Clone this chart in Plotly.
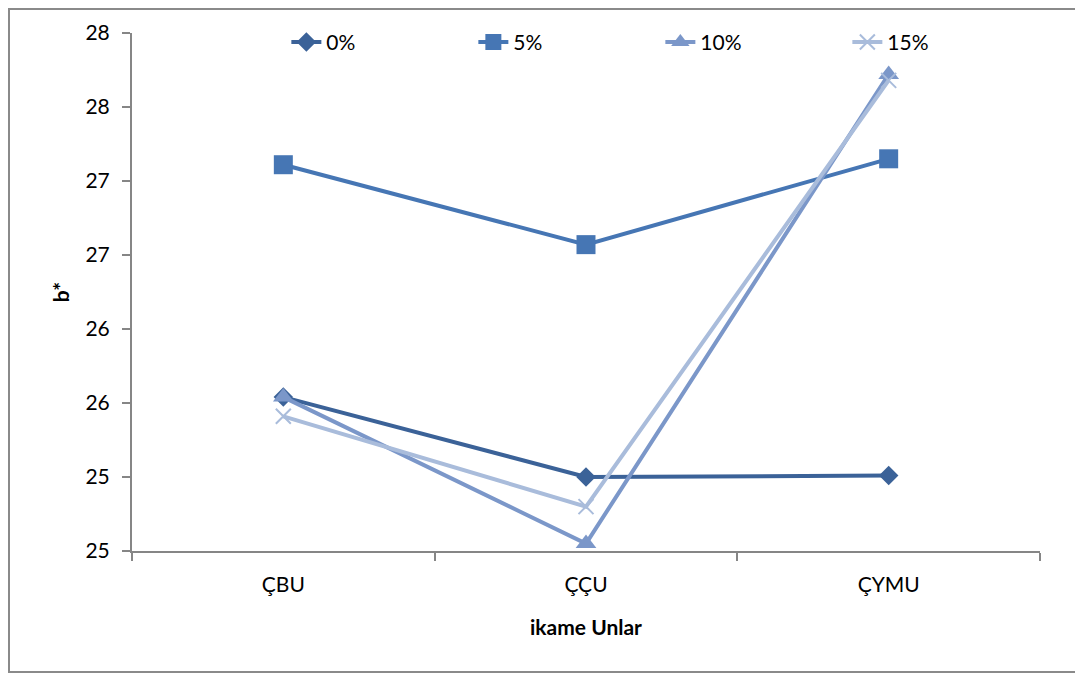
import plotly.graph_objects as go

categories = ["ÇBU", "ÇÇU", "ÇYMU"]
series_names = ["0%", "5%", "10%", "15%"]
v0 = [25.54, 25.00, 25.01]
v5 = [27.11, 26.57, 27.15]
v10 = [25.54, 24.55, 27.72]
v15 = [25.41, 24.80, 27.68]
tick_vals = [24.5, 25.0, 25.5, 26.0, 26.5, 27.0, 27.5, 28.0]
tick_text = ["25", "25", "26", "26", "27", "27", "28", "28"]

colors = ["#3B6298", "#4676B4", "#7B97C9", "#A9BCDB"]
symbols = ["diamond", "square", "triangle-up", "x-thin"]
sizes = [15, 19, 18, 15]
values = [v0, v5, v10, v15]

FONT = "Lato, 'Open Sans', sans-serif"
FS = 21

fig = go.Figure()
for name, vals, c, s, sz in zip(series_names, values, colors, symbols, sizes):
    marker = dict(symbol=s, size=sz, color=c)
    if s == "x-thin":
        marker["line"] = dict(color=c, width=2)
    fig.add_trace(go.Scatter(
        x=categories, y=vals, name=name, mode="lines+markers",
        line=dict(color=c, width=4), marker=marker,
    ))

x0b, x1b = -123 / 908, 1.1
y0b, y1b = -121 / 518, 1 + 24 / 518
border_path = f"M {x1b},{y1b} L {x0b},{y1b} L {x0b},{y0b} L {x1b},{y0b}"

fig.update_layout(
    width=1075, height=667,
    margin=dict(l=124, r=43, t=25, b=124, autoexpand=False),
    paper_bgcolor="white", plot_bgcolor="white",
    font=dict(family=FONT, size=FS, color="black"),
    showlegend=True,
    legend=dict(orientation="h", x=0.17, y=0.982, xanchor="left", yanchor="middle",
                entrywidth=142, entrywidthmode="pixels",
                font=dict(size=FS), bgcolor="rgba(0,0,0,0)"),
    xaxis=dict(type="category", range=[-0.5, 2.5], showgrid=False,
               showline=True, linecolor="#868686", linewidth=2,
               ticks="outside", tickson="boundaries", ticklen=8, tickcolor="#868686",
               tickwidth=2, ticklabelstandoff=14,
               title=dict(text="<b>ikame Unlar</b>", font=dict(size=FS), standoff=25),
               tickfont=dict(size=FS)),
    yaxis=dict(range=[24.5, 28.0], tickvals=tick_vals, ticktext=tick_text,
               showgrid=False, zeroline=False,
               showline=True, linecolor="#868686", linewidth=2,
               ticks="outside", ticklen=8, tickcolor="#868686", tickwidth=2,
               ticklabelstandoff=8,
               title=dict(text="<b>b*</b>", font=dict(size=FS), standoff=10),
               tickfont=dict(size=FS)),
    shapes=[dict(type="path", xref="paper", yref="paper", path=border_path,
                 line=dict(color="#8A8A8A", width=2), layer="below")],
)

fig.write_html("out.html")
